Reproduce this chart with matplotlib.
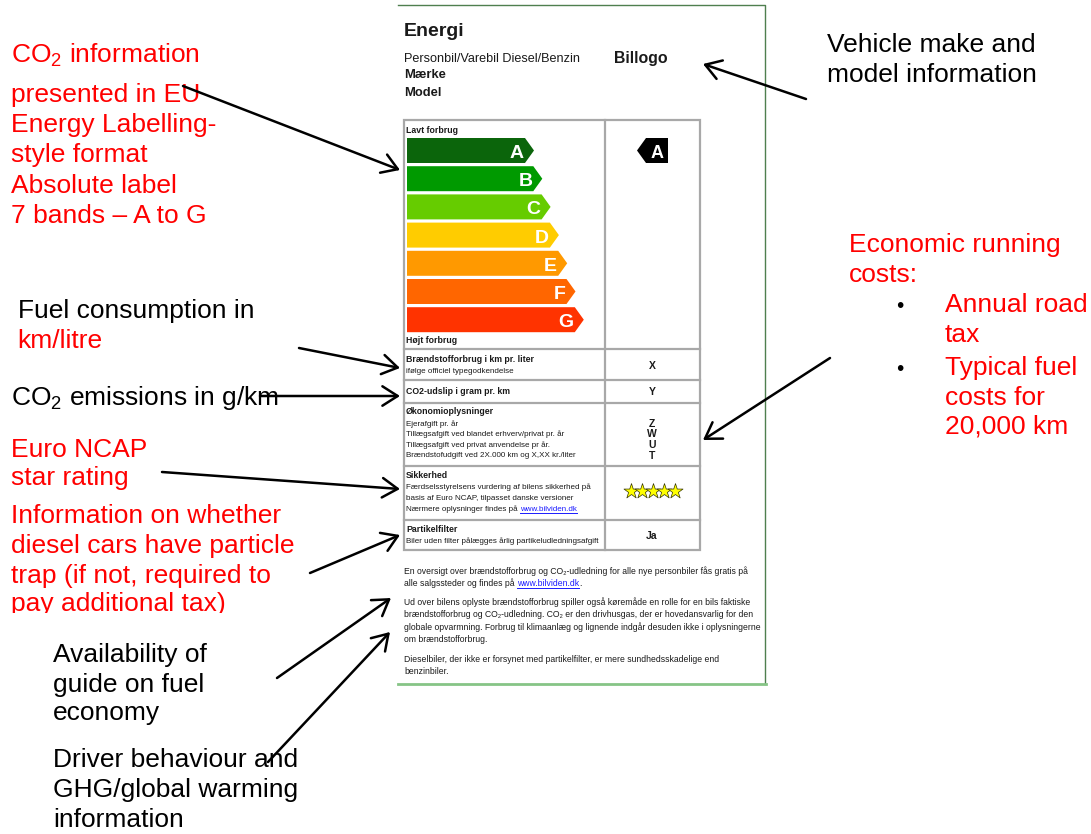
import matplotlib.pyplot as plt
from matplotlib.patches import Polygon, Rectangle
from matplotlib.transforms import Bbox, TransformedBbox

plt.rcParams['mathtext.default'] = 'regular'

# label content
bands = ['A', 'B', 'C', 'D', 'E', 'F', 'G']
band_colors = ['#0b650b', '#009a00', '#66cc00', '#ffcc00', '#ff9900', '#ff6600', '#ff3300']
car_band = 'A'
make_label = 'Billogo'
value_labels = ['X', 'Y', 'Z', 'W', 'U', 'T']
ncap_stars = 5
particle_filter = 'Ja'

LAB = ['Liberation Sans', 'DejaVu Sans']
ANN = ['Liberation Sans', 'DejaVu Sans']
RED = '#ff0000'
INK = '#1a1a1a'

fig = plt.figure(figsize=(10.91, 8.34), dpi=100)
ax = fig.add_axes([0, 0, 1, 1])
ax.set_xlim(0, 1091)
ax.set_ylim(834, 0)
ax.axis('off')


def t(x, y, s, size, color='black', weight='normal', fam=ANN, ha='left', **kw):
    return ax.text(x, y, s, fontsize=size, color=color, fontweight=weight,
                   family=fam, ha=ha, va='baseline', **kw)


# label frame
ax.plot([398, 765, 765], [5, 5, 684], color='#4f7f4f', lw=1)
ax.plot([398, 766], [684, 684], color='#86c486', lw=2)

# header
t(404, 36, 'Energi', 14, color=INK, weight='bold', fam=LAB)
t(404, 62, 'Personbil/Varebil Diesel/Benzin', 9.1, color=INK, fam=LAB)
t(614, 63, make_label, 11.4, color=INK, weight='bold', fam=LAB)
t(404, 78, 'Mærke', 9.4, color=INK, weight='bold', fam=LAB)
t(404, 96, 'Model', 9.4, color=INK, weight='bold', fam=LAB)

# table grid
grid = '#a8a8a8'
ax.add_patch(Rectangle((404, 120), 296, 430, fill=False, ec=grid, lw=1.6))
ax.plot([605, 605], [120, 550], color=grid, lw=1.6)
for yy in [349, 380, 403, 466, 520]:
    ax.plot([404, 700], [yy, yy], color=grid, lw=1.6)

t(406, 133, 'Lavt forbrug', 6.3, color=INK, weight='bold', fam=LAB)
t(406, 343, 'Højt forbrug', 6.3, color=INK, weight='bold', fam=LAB)

# energy band arrows
for i, (b, c) in enumerate(zip(bands, band_colors)):
    y0 = 138 + i * 28.2
    y1 = y0 + 25
    tip = 534 + i * 8.3
    body = tip - 9
    ax.add_patch(Polygon([(407, y0), (body, y0), (tip, (y0 + y1) / 2), (body, y1), (407, y1)],
                         closed=True, fc=c, ec='none'))
    t(body - 1, y0 + 20, b, 14, color='white', weight='bold', ha='right')
    if b == car_band:
        ax.add_patch(Polygon([(637, (y0 + y1) / 2), (646, y0), (668, y0), (668, y1), (646, y1)],
                             closed=True, fc='black', ec='none'))
        t(657, y0 + 20, b, 13, color='white', weight='bold', ha='center')

# table rows
small = 5.75
head = 6.3
t(406, 362, 'Brændstofforbrug i km pr. liter', head, color=INK, weight='bold', fam=LAB)
t(406, 373, 'ifølge officiel typegodkendelse', small, color=INK, fam=LAB)
t(406, 394, 'CO2-udslip i gram pr. km', head, color=INK, weight='bold', fam=LAB)
t(406, 414, 'Økonomioplysninger', head, color=INK, weight='bold', fam=LAB)
eco_lines = ['Ejerafgift pr. år', 'Tillægsafgift ved blandet erhverv/privat pr. år',
             'Tillægsafgift ved privat anvendelse pr år.',
             'Brændstofudgift ved 2X.000 km og X,XX kr./liter']
for k, s in enumerate(eco_lines):
    t(406, 426 + k * 10.4, s, small, color=INK, fam=LAB)

val_y = [369, 395, 427, 437, 448, 459]
for v, yy in zip(value_labels, val_y):
    t(652, yy, v, 7.5, color=INK, weight='bold', fam=LAB, ha='center')

t(406, 478, 'Sikkerhed', head, color=INK, weight='bold', fam=LAB)
t(406, 489, 'Færdselsstyrelsens vurdering af bilens sikkerhed på', small, color=INK, fam=LAB)
t(406, 500, 'basis af Euro NCAP, tilpasset danske versioner', small, color=INK, fam=LAB)
pre1 = t(406, 511, 'Nærmere oplysninger findes på ', small, color=INK, fam=LAB)
ax.scatter([631 + 11 * k for k in range(ncap_stars)], [491] * ncap_stars, marker='*',
           s=130, c='#ffff00', edgecolors='#333300', linewidths=0.5, zorder=3)

t(406, 532, 'Partikelfilter', head, color=INK, weight='bold', fam=LAB)
t(406, 543, 'Biler uden filter pålægges årlig partikeludledningsafgift', small, color=INK, fam=LAB)
t(652, 539, particle_filter, 7.5, color=INK, weight='bold', fam=LAB, ha='center')

# footer text
fs = 6.2
footer = [
    (574, 'En oversigt over brændstofforbrug og CO₂-udledning for alle nye personbiler fås gratis på'),
    (605, 'Ud over bilens oplyste brændstofforbrug spiller også køremåde en rolle for en bils faktiske'),
    (617, 'brændstofforbrug og CO₂-udledning. CO₂ er den drivhusgas, der er hovedansvarlig for den'),
    (630, 'globale opvarmning. Forbrug til klimaanlæg og lignende indgår desuden ikke i oplysningerne'),
    (642, 'om brændstofforbrug.'),
    (662, 'Dieselbiler, der ikke er forsynet med partikelfilter, er mere sundhedsskadelige end'),
    (674, 'benzinbiler.'),
]
for yy, s in footer:
    t(404, yy, s, fs, color=INK, fam=LAB)
pre2 = t(404, 586, 'alle salgssteder og findes på ', fs, color=INK, fam=LAB)

# hyperlinks after the measured preceding text
fig.canvas.draw()
r = fig.canvas.get_renderer()
inv = ax.transData.inverted()
for pre, size, tail in [(pre1, small, ''), (pre2, fs, '.')]:
    bb = pre.get_window_extent(r)
    x0 = inv.transform((bb.x1, bb.y0))[0]
    base = pre.get_position()[1]
    link = t(x0, base, 'www.bilviden.dk', size, color='#1a1aff', fam=LAB)
    lb = link.get_window_extent(r)
    x1 = inv.transform((lb.x1, lb.y0))[0]
    ax.plot([x0, x1], [base + 1.5, base + 1.5], color='#1a1aff', lw=0.7)
    if tail:
        t(x1, base, tail, size, color=INK, fam=LAB)

# annotations, left side
A = 19
for yy, s in [(63, 'CO$_2$ information'), (102, 'presented in EU'), (132, 'Energy Labelling-'),
              (162, 'style format'), (193, 'Absolute label'), (223, '7 bands – A to G')]:
    t(11, yy, s, A, color=RED)
t(18, 318, 'Fuel consumption in', A)
t(17, 348, 'km/litre', A, color=RED)
t(11, 405, 'CO$_2$ emissions in g/km', A)
t(11, 457, 'Euro NCAP', A, color=RED)
t(11, 485, 'star rating', A, color=RED)
# the last line of this note is cut off at the bottom in the original
clip_box = TransformedBbox(Bbox([[0, 0], [1091, 613]]), ax.transData)
for yy, s in [(523, 'Information on whether'), (553, 'diesel cars have particle'),
              (583, 'trap (if not, required to'), (611, 'pay additional tax)')]:
    tx = t(11, yy, s, A, color=RED)
    tx.set_clip_box(clip_box)
    tx.set_clip_on(True)
for yy, s in [(662, 'Availability of'), (692, 'guide on fuel'), (720, 'economy'),
              (767, 'Driver behaviour and'), (797, 'GHG/global warming'), (827, 'information')]:
    t(53, yy, s, A)

# annotations, right side
t(827, 52, 'Vehicle make and', A)
t(827, 82, 'model information', A)
t(849, 252, 'Economic running', A, color=RED)
t(849, 282, 'costs:', A, color=RED)
t(900, 312, '•', A - 4, ha='center')
t(945, 312, 'Annual road', A, color=RED)
t(945, 342, 'tax', A, color=RED)
t(900, 375, '•', A - 4, ha='center')
t(945, 375, 'Typical fuel', A, color=RED)
t(945, 405, 'costs for', A, color=RED)
t(945, 433, '20,000 km', A, color=RED)

# arrows
arrows = [((806, 99), (703, 64)), ((183, 86), (400, 170)), ((299, 348), (400, 368)),
          ((260, 396), (400, 396)), ((162, 472), (400, 489)), ((310, 573), (400, 535)),
          ((277, 678), (391, 598)), ((268, 762), (390, 632)), ((830, 358), (703, 440))]
for tail, tip in arrows:
    ax.annotate('', xy=tip, xytext=tail, zorder=5,
                arrowprops=dict(arrowstyle='->,head_length=0.55,head_width=0.35', lw=1.8,
                                color='black', shrinkA=0, shrinkB=0, mutation_scale=20))

fig.savefig('out.png', dpi=100)
